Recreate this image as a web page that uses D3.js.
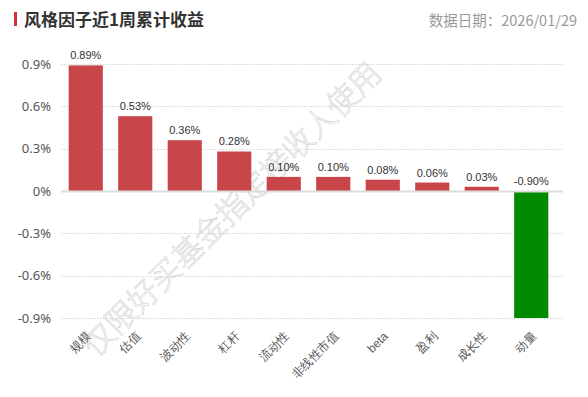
<!DOCTYPE html>
<html><head><meta charset="utf-8">
<script src="https://cdn.jsdelivr.net/npm/d3@7"></script>
<style>body{margin:0;background:#fff;}svg{display:block;font-family:"Noto Sans CJK SC","Liberation Sans",sans-serif;}</style>
</head><body><svg id="c" width="588" height="397"></svg>
<script>
const categories = ["规模","估值","波动性","杠杆","流动性","非线性市值","beta","盈利","成长性","动量"];
const values = [0.89,0.53,0.36,0.28,0.10,0.10,0.08,0.06,0.03,-0.90];
const yTicks = [0.9,0.6,0.3,0,-0.3,-0.6,-0.9];
const titleText = "风格因子近1周累计收益";
const dateText = "数据日期：2026/01/29";
const watermark = "仅限好买基金指定接收人使用";

const svg = d3.select("#c");
const m = {l:61, r:32, t:64, b:79};
const W = 588, H = 397;
const x = d3.scaleBand().domain(categories).range([m.l, W-m.r]).paddingInner(0.31).paddingOuter(0.155);
const y = d3.scaleLinear().domain([-0.9,0.9]).range([H-m.b, m.t]);
const pct = d => (d<0?"-":"") + d3.format(".2f")(Math.abs(d)) + "%";

// title
svg.append("rect").attr("x",14).attr("y",12).attr("width",3).attr("height",14).attr("fill","#d0343a");
svg.append("text").attr("x",24).attr("y",26).attr("font-size",17).attr("font-weight","bold").attr("fill","#333").text(titleText);
svg.append("text").attr("x",577).attr("y",26).attr("text-anchor","end").attr("font-size",14.5).attr("fill","#999").text(dateText);

// grid
const g = svg.append("g");
g.selectAll("line.grid").data(yTicks.filter(d=>d!==0)).join("line")
  .attr("x1",m.l).attr("x2",W-m.r+7).attr("y1",d=>Math.round(y(d))+0.5).attr("y2",d=>Math.round(y(d))+0.5)
  .attr("stroke","#d4d4d4").attr("stroke-dasharray","1.5,1.5");

// y axis labels
const yAxis = d3.axisLeft(y).tickValues(yTicks).tickSize(0).tickPadding(0)
  .tickFormat(d=> (Math.abs(d)<1e-9? "0" : (d<0?"-":"") + d3.format(".1f")(Math.abs(d))) + "%");
const ya = svg.append("g").attr("transform",`translate(${m.l-10},0)`).call(yAxis);
ya.select(".domain").remove();
ya.selectAll("text").attr("font-size",13).attr("fill","#555").attr("font-family","'Noto Sans','Liberation Sans',sans-serif");

// watermark (behind marks)
svg.append("text").attr("transform","translate(96,358) rotate(-44.5)")
  .attr("font-size",31).attr("fill","none").attr("stroke","#cfcfcf").attr("stroke-width",0.6)
  .attr("font-family","'Noto Sans CJK SC',sans-serif").attr("font-weight",300)
  .text(watermark);

// bars
svg.selectAll("rect.bar").data(values).join("rect")
  .attr("x",(d,i)=>x(categories[i])).attr("width",x.bandwidth())
  .attr("y",d=>y(Math.max(0,d))).attr("height",d=>Math.abs(y(d)-y(0)))
  .attr("fill",d=>d>=0?"#c8464a":"#008a00");

// zero line
svg.append("line").attr("x1",m.l).attr("x2",W-m.r+7).attr("y1",y(0)+0.5).attr("y2",y(0)+0.5).attr("stroke","#dcdcdc").attr("stroke-width",2);

// value labels
svg.selectAll("text.val").data(values).join("text")
  .attr("x",(d,i)=>x(categories[i])+x.bandwidth()/2)
  .attr("y",d=> d>=0 ? y(d)-6 : y(0)-6)
  .attr("text-anchor","middle").attr("font-size",11).attr("fill","#333")
  .attr("font-family","'Liberation Sans',sans-serif")
  .text(pct);

// x axis labels
const xAxis = d3.axisBottom(x).tickSize(0).tickPadding(0);
const xa = svg.append("g").attr("transform",`translate(0,${y(-0.9)})`).call(xAxis);
xa.select(".domain").remove();
xa.selectAll("text").attr("font-size",12).attr("fill","#555")
  .attr("text-anchor","end").attr("dy",0)
  .attr("transform","translate(6,19) rotate(-45)");
</script></body></html>
